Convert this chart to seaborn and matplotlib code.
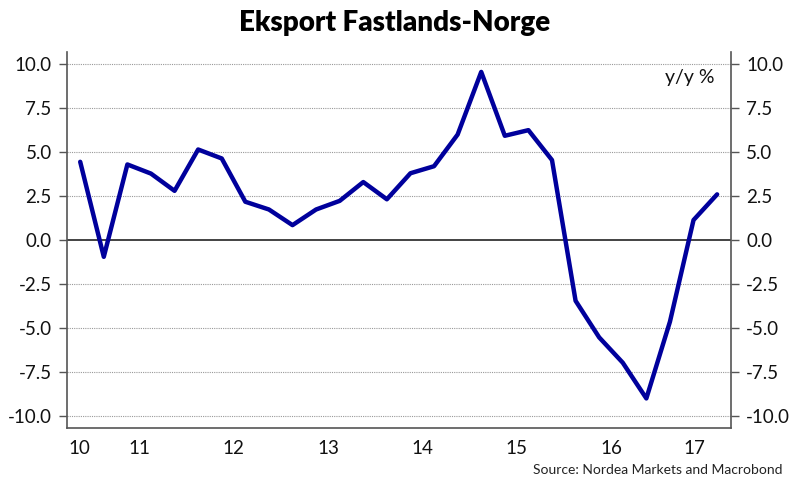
import numpy as np
import pandas as pd
import seaborn as sns
import matplotlib.pyplot as plt
from matplotlib.ticker import FixedLocator, NullFormatter

sns.set_style('white')
plt.rcParams['font.family'] = ['Lato', 'DejaVu Sans']

# quarterly export growth, mainland Norway (y/y %)
quarters = ['2010Q4',
            '2011Q1', '2011Q2', '2011Q3', '2011Q4',
            '2012Q1', '2012Q2', '2012Q3', '2012Q4',
            '2013Q1', '2013Q2', '2013Q3', '2013Q4',
            '2014Q1', '2014Q2', '2014Q3', '2014Q4',
            '2015Q1', '2015Q2', '2015Q3', '2015Q4',
            '2016Q1', '2016Q2', '2016Q3', '2016Q4',
            '2017Q1', '2017Q2', '2017Q3']
growth = [4.45, -0.95, 4.3, 3.78, 2.8, 5.15, 4.64, 2.18,
          1.74, 0.85, 1.74, 2.23, 3.3, 2.32, 3.8, 4.2,
          6.0, 9.56, 5.93, 6.25, 4.55, -3.45, -5.53, -6.97,
          -9.0, -4.64, 1.14, 2.6]
year_labels = ['10', '11', '12', '13', '14', '15', '16', '17']
y_ticks = [-10.0, -7.5, -5.0, -2.5, 0.0, 2.5, 5.0, 7.5, 10.0]

df = pd.DataFrame({'quarter': quarters, 'growth': growth})
df['t'] = [int(q[:4]) + (int(q[-1]) - 0.5) / 4 for q in quarters]

fig = plt.figure(figsize=(7.9, 4.88), dpi=100)
ax = fig.add_axes([0.0848, 0.123, 0.8405, 0.770])

xmin, xmax = 2010.735, 2017.772
ax.set_xlim(xmin, xmax)
ax.set_ylim(-10.68, 10.68)

# grid
for v in y_ticks:
    if v != 0:
        ax.axhline(v, color='#999999', lw=0.8, ls=(0, (1, 1)), zorder=1)
ax.axhline(0, color='#222222', lw=1.2, zorder=1)

sns.lineplot(data=df, x='t', y='growth', color='#00009c', lw=3.2,
             ax=ax, zorder=3, legend=False)

# x axis: ticks at year boundaries, labels mid-year
years = np.arange(2010, 2018)
ax.xaxis.set_major_locator(FixedLocator(years[1:]))
ax.xaxis.set_major_formatter(NullFormatter())
mids = [(max(y, xmin) + min(y + 1, xmax)) / 2 for y in years]
ax.xaxis.set_minor_locator(FixedLocator(mids))
ax.set_xticklabels(year_labels, minor=True)
ax.tick_params(axis='x', which='major', length=6, width=1, color='#555555', direction='out')
ax.tick_params(axis='x', which='minor', length=0, labelsize=13.5, pad=9, labelcolor='#111111')

ax.set_yticks(y_ticks)
ax.set_yticklabels([f'{v:.1f}' for v in y_ticks])
ax.tick_params(axis='y', left=True, right=True, labelleft=True, labelright=True,
               length=6, width=1, color='#555555', direction='out',
               labelsize=13.5, labelcolor='#111111', pad=5)

for side in ['left', 'right', 'bottom']:
    ax.spines[side].set_color('#555555')
    ax.spines[side].set_linewidth(1.2)
ax.spines['top'].set_visible(False)

ax.set_xlabel('')
ax.set_ylabel('')

ax.text(0.975, 0.955, 'y/y %', transform=ax.transAxes, ha='right', va='top',
        fontsize=14, color='#111111')

fig.text(0.5, 0.953, 'Eksport Fastlands-Norge', ha='center', va='center',
         fontsize=20, fontweight='heavy', color='#000000')
fig.text(0.99, 0.025, 'Source: Nordea Markets and Macrobond', ha='right', va='bottom',
         fontsize=10, color='#222222')

fig.savefig('out.png', dpi=100)
